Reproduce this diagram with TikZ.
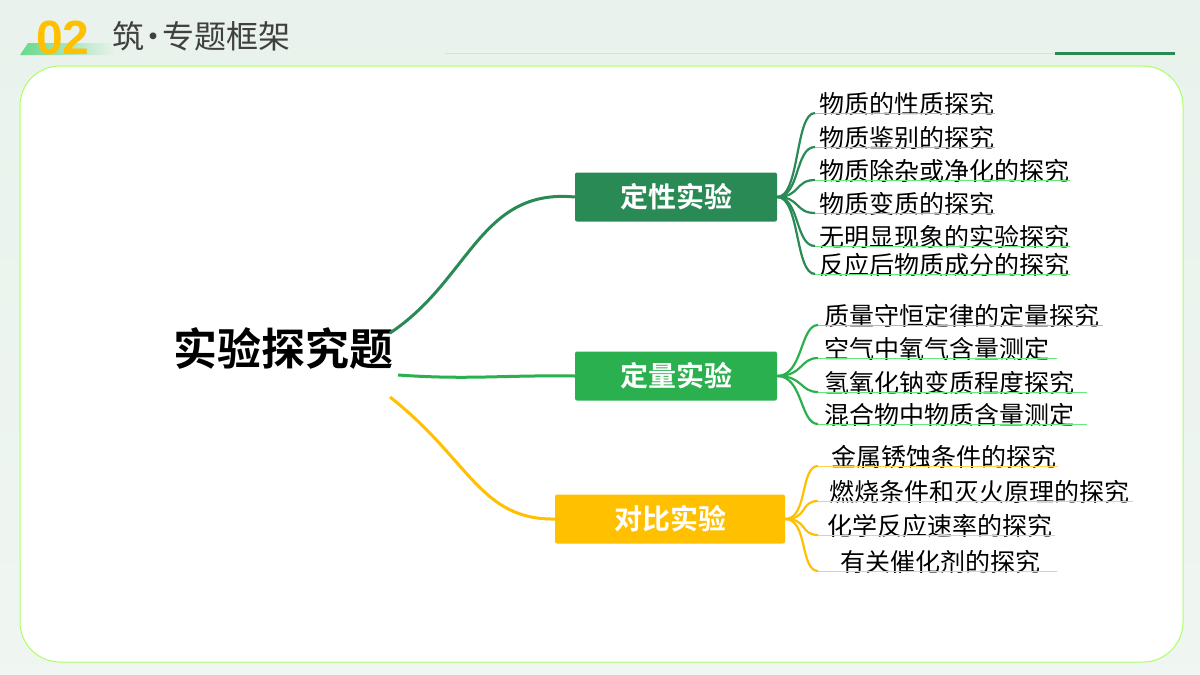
\documentclass[tikz,border=0pt]{standalone}
\usepackage{fontspec}
\newfontfamily\cjk{Noto Sans CJK SC}
\newfontfamily\cjkb{Noto Sans CJK SC Bold}
\definecolor{gA}{HTML}{2A8A56}
\definecolor{gB}{HTML}{2BB04F}
\definecolor{yC}{HTML}{FFC000}
\definecolor{bg}{HTML}{E9F2EC}
\begin{document}
\begin{tikzpicture}[x=1pt,y=-1pt,
  leaf/.style={anchor=south west,inner sep=0pt,font=\cjk\fontsize{25}{25}\selectfont},
  cat/.style={rounded corners=2pt,minimum height=49pt,text=white,font=\cjkb\fontsize{28}{28}\selectfont},
  br/.style={line width=2.2pt}]
\useasboundingbox (0,0) rectangle (1200,675);
\shade[top color=bg,bottom color=bg!70!white] (0,0) rectangle (1200,675);
\fill[white,draw=green!40!lime!60!white,line width=1pt,rounded corners=40pt] (20,66) rectangle (1183,662);
% header
\shade[left color=green!50!teal!60,right color=bg] (20,55) -- (28,43) -- (115,43) -- (115,55) -- cycle;
\node[anchor=west,inner sep=0pt,text=yC,font=\fontspec{Liberation Sans}\bfseries\fontsize{48}{48}\selectfont] (num) at (36,38) {02};
\node[anchor=west,inner sep=0pt,text=black!75,font=\cjk\fontsize{32}{32}\selectfont] (ttl) at (112,36) {筑\kern-7pt·\kern-7pt专题框架};
\draw[green!60!gray!30,line width=0.8pt] (445,53) -- (1175,53);
\draw[gA,line width=3pt] (1055,53) -- (1175,53);
% main
\node[font=\cjkb\fontsize{44}{44}\selectfont] (main) at (283,348) {实验探究题};
\coordinate (m1) at (390,333); \coordinate (m2) at (398,375); \coordinate (m3) at (390,397);
\node[cat,fill=gA,minimum width=202pt] (A) at (676,197) {定性实验};
\node[cat,fill=gB,minimum width=202pt] (B) at (676,376) {定量实验};
\node[cat,fill=yC,minimum width=230pt] (C) at (670,519) {对比实验};
\draw[gA,line width=3pt] (m1) .. controls (470,280) and (480,188) .. (A.west);
\draw[gB,line width=3pt] (m2) .. controls (470,380) and (500,375) .. (B.west);
\draw[yC,line width=3pt] (m3) .. controls (470,460) and (480,520) .. (C.west);
% leaves A
\foreach \i/\y/\xe/\t in {1/113/995/物质的性质探究,2/147/995/物质鉴别的探究,3/180/1070/物质除杂或净化的探究,4/213/995/物质变质的探究,5/246/1070/无明显现象的实验探究,6/274/1070/反应后物质成分的探究}{
  \coordinate (a\i) at (815,\y);
  \node[leaf] (ta\i) at (819,\y+3) {\t};
  \draw[green!70!teal!60,line width=1pt] (a\i) -- (\xe,\y);
  \draw[gA,br] (A.east) .. controls (800,197) and (795,\y) .. (a\i);
}
\foreach \i/\y/\xe/\t in {1/325/1103/质量守恒定律的定量探究,2/358/1057/空气中氧气含量测定,3/392/1087/氢氧化钠变质程度探究,4/424/1087/混合物中物质含量测定}{
  \coordinate (b\i) at (818,\y);
  \node[leaf] (tb\i) at (824,\y+3) {\t};
  \draw[green!70!teal!60,line width=1pt] (b\i) -- (\xe,\y);
  \draw[gB,br] (B.east) .. controls (803,376) and (800,\y) .. (b\i);
}
\foreach \i/\y/\xs/\xe/\t in {1/466/831/1058/金属锈蚀条件的探究,2/501/829/1133/燃烧条件和灭火原理的探究,3/535/827/1055/化学反应速率的探究,4/571/840/1057/有关催化剂的探究}{
  \coordinate (c\i) at (818,\y);
  \node[leaf] (tc\i) at (\xs,\y+3) {\t};
  \draw[yC!70!white,line width=1pt] (c\i) -- (\xe,\y);
  \draw[yC,br] (C.east) .. controls (808,519) and (800,\y) .. (c\i);
}
\end{tikzpicture}
\end{document}
